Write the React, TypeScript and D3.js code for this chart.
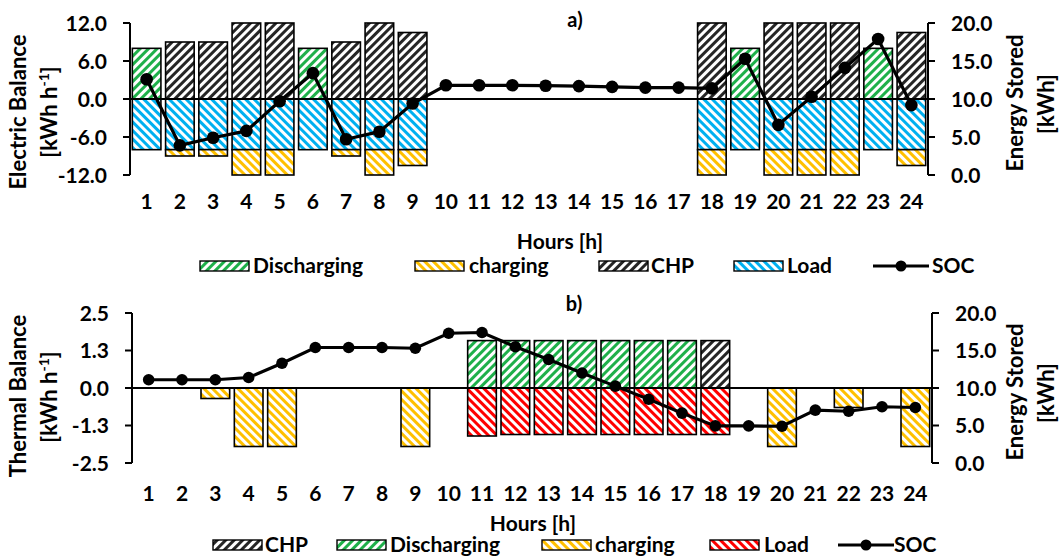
import React from 'react';
import * as d3 from 'd3';

const hours = ['1', '2', '3', '4', '5', '6', '7', '8', '9', '10', '11', '12',
  '13', '14', '15', '16', '17', '18', '19', '20', '21', '22', '23', '24'];

// a) electric balance [kWh/h]
const elecDischarging = [8, 0, 0, 0, 0, 8, 0, 0, 0, 0, 0, 0, 0, 0, 0, 0, 0, 0, 8, 0, 0, 0, 8, 0];
const elecCharging = [0, -1, -1, -4, -4, 0, -1, -4, -2.5, 0, 0, 0, 0, 0, 0, 0, 0, -4, 0, -4, -4, -4, 0, -2.5];
const elecCHP = [0, 9, 9, 12, 12, 0, 9, 12, 10.5, 0, 0, 0, 0, 0, 0, 0, 0, 12, 0, 12, 12, 12, 0, 10.5];
const elecLoad = [-8, -8, -8, -8, -8, -8, -8, -8, -8, 0, 0, 0, 0, 0, 0, 0, 0, -8, -8, -8, -8, -8, -8, -8];
const elecSOC = [12.6, 3.9, 4.9, 5.8, 9.7, 13.4, 4.7, 5.7, 9.4, 11.8, 11.8, 11.8, 11.75, 11.7, 11.6, 11.5, 11.5, 11.4,
  15.3, 6.6, 10.3, 14.1, 17.9, 9.2];

// b) thermal balance [kWh/h]
const thermCHP = [0, 0, 0, 0, 0, 0, 0, 0, 0, 0, 0, 0, 0, 0, 0, 0, 0, 1.58, 0, 0, 0, 0, 0, 0];
const thermDischarging = [0, 0, 0, 0, 0, 0, 0, 0, 0, 0, 1.58, 1.58, 1.58, 1.58, 1.58, 1.58, 1.58, 0, 0, 0, 0, 0, 0, 0];
const thermCharging = [0, 0, -0.35, -1.95, -1.95, 0, 0, 0, -1.95, 0, 0, 0, 0, 0, 0, 0, 0, 0, 0, -1.95, 0, -0.65, 0, -1.95];
const thermLoad = [0, 0, 0, 0, 0, 0, 0, 0, 0, 0, -1.6, -1.55, -1.55, -1.55, -1.55, -1.55, -1.55, -1.55, 0, 0, 0, 0, 0, 0];
const thermSOC = [11.1, 11.1, 11.1, 11.4, 13.3, 15.4, 15.4, 15.4, 15.3, 17.3, 17.4, 15.5, 13.8, 12.0, 10.25, 8.5, 6.65, 4.95,
  4.95, 4.9, 7.05, 6.9, 7.5, 7.4];

const elecTicks = [-12, -6, 0, 6, 12];
const elecTickLabels = ['-12.0', '-6.0', '0.0', '6.0', '12.0'];
const thermTicks = [-2.5, -1.25, 0, 1.25, 2.5];
const thermTickLabels = ['-2.5', '-1.3', '0.0', '1.3', '2.5'];
const socTicks = [0, 5, 10, 15, 20];
const socTickLabels = ['0.0', '5.0', '10.0', '15.0', '20.0'];

const FONT = 'Lato, "Open Sans", sans-serif';

const patterns: [string, string, number][] = [
  ['pGreen', '#1fb04a', 45],
  ['pBlack', '#262626', 45],
  ['pYellow', '#ffc000', -45],
  ['pBlue', '#00b0f0', -45],
  ['pRed', '#ff0000', -45],
];

function Panel(props: any) {
  const { x0, x1, yTop, yBot, domain, ticks, tickLabels, keys, values, fills, soc, r } = props;

  const x = d3.scaleBand().domain(hours).range([x0, x1]).paddingInner(0.14).paddingOuter(0.07);
  const y = d3.scaleLinear().domain(domain).range([yBot, yTop]);
  const yR = d3.scaleLinear().domain([0, 20]).range([yBot, yTop]);

  const rows = hours.map((h, i) => {
    const row: any = { hour: h };
    keys.forEach((k: string, j: number) => { row[k] = values[j][i]; });
    return row;
  });
  const stacked = d3.stack<any>().keys(keys).offset(d3.stackOffsetDiverging)(rows);

  const cx = (h: string) => (x(h) as number) + x.bandwidth() / 2;
  const line = d3.line<number>().x((_, i) => cx(hours[i])).y(d => yR(d));

  return (
    <g>
      {stacked.map((s, j) => (
        <g key={keys[j]}>
          {s.map((d, i) => {
            const h = Math.abs(y(d[0]) - y(d[1]));
            if (h < 0.5) return null;
            return (
              <rect key={i} x={x(hours[i])} width={x.bandwidth()}
                y={Math.min(y(d[0]), y(d[1]))} height={h}
                fill={`url(#${fills[j]})`} stroke="#000" strokeWidth={1.6} />
            );
          })}
        </g>
      ))}
      <line x1={x0} x2={x1} y1={y(0)} y2={y(0)} stroke="#000" strokeWidth={2} />
      {/* left axis */}
      <line x1={x0} x2={x0} y1={yTop} y2={yBot} stroke="#000" strokeWidth={2} />
      {ticks.map((t: number, i: number) => (
        <g key={t}>
          <line x1={x0 - 7} x2={x0} y1={y(t)} y2={y(t)} stroke="#000" strokeWidth={2} />
          <text x={x0 - 23} y={y(t)} dy="0.36em" textAnchor="end" fontSize={21}>{tickLabels[i]}</text>
        </g>
      ))}
      {/* right axis */}
      <line x1={x1} x2={x1} y1={yTop} y2={yBot} stroke="#000" strokeWidth={2} />
      {socTicks.map((t, i) => (
        <g key={t}>
          <line x1={x1} x2={x1 + 7} y1={yR(t)} y2={yR(t)} stroke="#000" strokeWidth={2} />
          <text x={x1 + 23} y={yR(t)} dy="0.36em" textAnchor="start" fontSize={21}>{socTickLabels[i]}</text>
        </g>
      ))}
      {hours.map(h => (
        <text key={h} x={cx(h)} y={props.tickY} textAnchor="middle" fontSize={21}>{h}</text>
      ))}
      <path d={line(soc) as string} fill="none" stroke="#000" strokeWidth={3.2} />
      {soc.map((v: number, i: number) => (
        <circle key={i} cx={cx(hours[i])} cy={yR(v)} r={r} fill="#000" />
      ))}
    </g>
  );
}

function Legend({ items, y }: any) {
  return (
    <g>
      {items.map((it: any) => (
        <g key={it.label}>
          {it.fill ? (
            <rect x={it.sx} y={y - 12} width={49} height={10} fill={`url(#${it.fill})`} stroke="#000" strokeWidth={1.4} />
          ) : (
            <g>
              <line x1={it.sx} x2={it.sx + 56} y1={y - 7} y2={y - 7} stroke="#000" strokeWidth={3} />
              <circle cx={it.sx + 28} cy={y - 7} r={5.5} fill="#000" />
            </g>
          )}
          <text x={it.tx} y={y} fontSize={21}>{it.label}</text>
        </g>
      ))}
    </g>
  );
}

export default function App() {
  const topLegend = [
    { label: 'Discharging', fill: 'pGreen', sx: 200, tx: 253 },
    { label: 'charging', fill: 'pYellow', sx: 415, tx: 469 },
    { label: 'CHP', fill: 'pBlack', sx: 599, tx: 651 },
    { label: 'Load', fill: 'pBlue', sx: 734, tx: 787 },
    { label: 'SOC', fill: null, sx: 873, tx: 932 },
  ];
  const botLegend = [
    { label: 'CHP', fill: 'pBlack', sx: 213, tx: 265 },
    { label: 'Discharging', fill: 'pGreen', sx: 337, tx: 390 },
    { label: 'charging', fill: 'pYellow', sx: 542, tx: 595 },
    { label: 'Load', fill: 'pRed', sx: 710, tx: 764 },
    { label: 'SOC', fill: null, sx: 838, tx: 894 },
  ];

  return (
    <svg width={1060} height={557} style={{ position: 'absolute', left: 0, top: 0, background: '#fff' }}
      fontFamily={FONT} fontWeight="bold" fill="#000">
      <defs>
        {patterns.map(([id, c, a]) => (
          <pattern key={id} id={id} patternUnits="userSpaceOnUse" width={6} height={6}
            patternTransform={`rotate(${a})`}>
            <rect width={6} height={6} fill="#fff" />
            <rect width={3} height={6} fill={c} />
          </pattern>
        ))}
      </defs>

      <Panel x0={130} x1={928} yTop={23} yBot={175} domain={[-12, 12]} ticks={elecTicks}
        tickLabels={elecTickLabels} keys={['Discharging', 'CHP', 'Load', 'charging']}
        values={[elecDischarging, elecCHP, elecLoad, elecCharging]}
        fills={['pGreen', 'pBlack', 'pBlue', 'pYellow']} soc={elecSOC} r={6.3} tickY={209} />
      <text x={575} y={27} textAnchor="middle" fontSize={20}>a)</text>
      <text transform="translate(26,112) rotate(-90)" textAnchor="middle" fontSize={22}>Electric Balance</text>
      <text transform="translate(57,112) rotate(-90)" textAnchor="middle" fontSize={22}>
        [kWh h<tspan fontSize={14} dy={-8}>-1</tspan><tspan dy={8}>]</tspan>
      </text>
      <text transform="translate(1023,103) rotate(-90)" textAnchor="middle" fontSize={22}>Energy Stored</text>
      <text transform="translate(1054,104) rotate(-90)" textAnchor="middle" fontSize={22}>[kWh]</text>
      <text x={560} y={249} textAnchor="middle" fontSize={21}>Hours [h]</text>
      <Legend items={topLegend} y={273} />

      <Panel x0={132} x1={932} yTop={313} yBot={463} domain={[-2.5, 2.5]} ticks={thermTicks}
        tickLabels={thermTickLabels} keys={['CHP', 'Discharging', 'Load', 'charging']}
        values={[thermCHP, thermDischarging, thermLoad, thermCharging]}
        fills={['pBlack', 'pGreen', 'pRed', 'pYellow']} soc={thermSOC} r={5.8} tickY={501} />
      <text x={574} y={311} textAnchor="middle" fontSize={20}>b)</text>
      <text transform="translate(26,396) rotate(-90)" textAnchor="middle" fontSize={22}>Thermal Balance</text>
      <text transform="translate(57,397) rotate(-90)" textAnchor="middle" fontSize={22}>
        [kWh h<tspan fontSize={14} dy={-8}>-1</tspan><tspan dy={8}>]</tspan>
      </text>
      <text transform="translate(1023,392) rotate(-90)" textAnchor="middle" fontSize={22}>Energy Stored</text>
      <text transform="translate(1054,393) rotate(-90)" textAnchor="middle" fontSize={22}>[kWh]</text>
      <text x={533} y={531} textAnchor="middle" fontSize={21}>Hours [h]</text>
      <Legend items={botLegend} y={552} />
    </svg>
  );
}
